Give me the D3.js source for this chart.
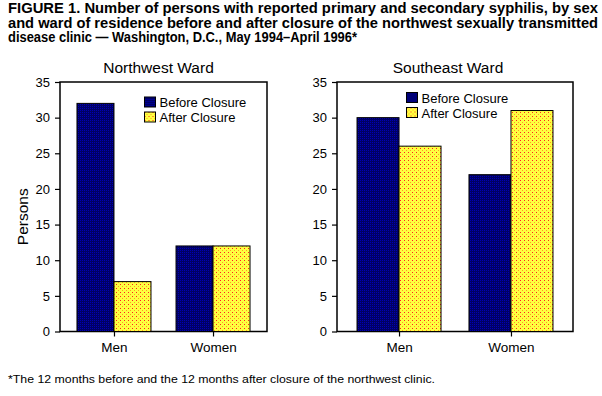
<!DOCTYPE html>
<html>
<head>
<meta charset="utf-8">
<script src="https://cdn.jsdelivr.net/npm/d3@7"></script>
<style>
  body { margin: 0; background: #fff; }
  svg { display: block; font-family: "Liberation Sans", Arial, sans-serif; }
</style>
</head>
<body>
<div id="chart"></div>
<script>
// data
const sexes = ["Men", "Women"];
const periods = ["Before Closure", "After Closure"];
const northwest = [32, 7, 12, 12];   // men before, men after, women before, women after
const southeast = [30, 26, 22, 31];
const yTicks = [0, 5, 10, 15, 20, 25, 30, 35];

const titleLines = [
  "FIGURE 1. Number of persons with reported primary and secondary syphilis, by sex",
  "and ward of residence before and after closure of the northwest sexually transmitted",
  "disease clinic \u2014 Washington, D.C., May 1994\u2013April 1996*"
];
const footnote = "*The 12 months before and the 12 months after closure of the northwest clinic.";

const width = 602, height = 396;

const svg = d3.select("#chart").append("svg")
    .attr("width", width)
    .attr("height", height);

// fill patterns
const defs = svg.append("defs");
const blue = defs.append("pattern").attr("id", "blueDots")
    .attr("width", 2).attr("height", 2).attr("patternUnits", "userSpaceOnUse");
blue.append("rect").attr("width", 2).attr("height", 2).attr("fill", "#000064");
blue.append("rect").attr("width", 1).attr("height", 1).attr("fill", "#0000b4");

const yel = defs.append("pattern").attr("id", "yellowDots")
    .attr("width", 4).attr("height", 4).attr("patternUnits", "userSpaceOnUse");
yel.append("rect").attr("width", 4).attr("height", 4).attr("fill", "#ffff40");
yel.append("rect").attr("x", 0).attr("y", 0).attr("width", 1).attr("height", 1).attr("fill", "#ff2020");
yel.append("rect").attr("x", 2).attr("y", 2).attr("width", 1).attr("height", 1).attr("fill", "#ffa020");

const fills = ["url(#blueDots)", "url(#yellowDots)"];

// title
svg.append("g").selectAll("text")
    .data(titleLines)
    .join("text")
    .attr("x", 8)
    .attr("y", (d, i) => 13 + i * 14.5)
    .attr("font-size", 14)
    .attr("font-weight", "bold")
    .attr("font-family", "'Liberation Sans Narrow', 'Arial Narrow', 'Liberation Sans', sans-serif")
    .attr("textLength", (d, i) => i < 2 ? 590 : 349)
    .attr("lengthAdjust", "spacingAndGlyphs")
    .text(d => d);

const drawPanel = (opts) => {
    const { name, values, x0, x1, pad, legendX, legendY, ylabel } = opts;
    const top = 82, bottom = 331.5;
    const g = svg.append("g");

    const y = d3.scaleLinear().domain([0, 35]).range([bottom, top]);
    const x = d3.scalePoint().domain(sexes).range([x0, x1]).padding(pad);
    const barW = opts.barW;
    const sub = d3.scaleBand().domain(periods).range([-barW, barW]);

    // frame
    g.append("rect")
        .attr("x", x0).attr("y", top)
        .attr("width", x1 - x0).attr("height", bottom - top)
        .attr("fill", "none").attr("stroke", "#000").attr("stroke-width", 1.5);

    // bars
    const rows = [];
    sexes.forEach((s, i) => periods.forEach((p, j) => rows.push({ s, p, j, v: values[i * 2 + j] })));
    g.append("g").selectAll("rect")
        .data(rows)
        .join("rect")
        .attr("x", d => x(d.s) + sub(d.p))
        .attr("y", d => y(d.v))
        .attr("width", sub.bandwidth())
        .attr("height", d => y(0) - y(d.v))
        .attr("fill", d => fills[d.j])
        .attr("stroke", "#000")
        .attr("stroke-width", 1);

    // y axis
    const ya = g.append("g")
        .attr("transform", `translate(${x0},0)`)
        .call(d3.axisLeft(y).tickValues(yTicks).tickSize(5).tickPadding(5));
    ya.select(".domain").remove();
    ya.selectAll("line").attr("stroke", "#000").attr("stroke-width", 1.2);
    ya.selectAll("text").attr("font-size", 13).attr("font-family", "'Liberation Sans', Arial, sans-serif").attr("fill", "#000");

    // x axis
    const xa = g.append("g")
        .attr("transform", `translate(0,${bottom})`)
        .call(d3.axisBottom(x).tickSize(5).tickPadding(6));
    xa.select(".domain").remove();
    xa.selectAll("line").attr("stroke", "#000").attr("stroke-width", 1.2);
    xa.selectAll("text").attr("font-size", 13.5).attr("font-family", "'Liberation Sans', Arial, sans-serif").attr("fill", "#000");

    // panel title
    g.append("text")
        .attr("x", (x0 + x1) / 2 + opts.titleShift)
        .attr("y", 73)
        .attr("text-anchor", "middle")
        .attr("font-size", 15.5)
        .text(name);

    if (ylabel) {
        g.append("text")
            .attr("transform", `translate(28,${(top + bottom) / 2 + 10}) rotate(-90)`)
            .attr("text-anchor", "middle")
            .attr("font-size", 15.5)
            .text(ylabel);
    }

    // legend
    const lg = g.append("g").selectAll("g")
        .data(periods)
        .join("g")
        .attr("transform", (d, i) => `translate(${legendX},${legendY + i * 15})`);
    lg.append("rect")
        .attr("width", 11).attr("height", 10)
        .attr("fill", (d, i) => fills[i])
        .attr("stroke", "#000").attr("stroke-width", 1);
    lg.append("text")
        .attr("x", 15).attr("y", 10)
        .attr("font-size", 13)
        .text(d => d);
};

drawPanel({ name: "Northwest Ward", values: northwest, x0: 60, x1: 267, pad: 0.545,
            barW: 37, legendX: 144.5, legendY: 97, ylabel: "Persons", titleShift: -5 });
drawPanel({ name: "Southeast Ward", values: southeast, x0: 337, x1: 573, pad: 0.554,
            barW: 42, legendX: 406.5, legendY: 92.5, ylabel: null, titleShift: -7 });

// footnote
svg.append("text")
    .attr("x", 8)
    .attr("y", 383)
    .attr("font-size", 11.5)
    .attr("textLength", 427)
    .attr("lengthAdjust", "spacingAndGlyphs")
    .text(footnote);
</script>
</body>
</html>
